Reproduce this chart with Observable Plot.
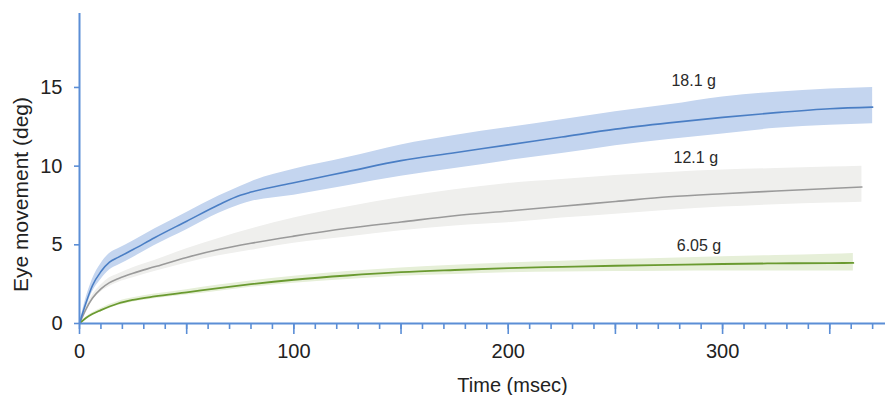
<!DOCTYPE html>
<html>
<head>
<meta charset="utf-8">
<script src="https://cdn.jsdelivr.net/npm/d3@7"></script>
<script src="https://cdn.jsdelivr.net/npm/@observablehq/plot@0.6"></script>
<style>
  html, body { margin: 0; padding: 0; background: #ffffff; }
  #chart { width: 889px; height: 395px; }
</style>
</head>
<body>
<div id="chart"></div>
<script>
// ---- Data ----
const seriesNames = ["18.1 g", "12.1 g", "6.05 g"];

const tBlue  = [0, 3, 6, 10, 14, 18, 25, 35, 50, 65, 75, 80, 100, 125, 150, 175, 200, 225, 250, 275, 300, 325, 350, 370];
const mBlue  = [0, 1.3, 2.4, 3.3, 3.9, 4.2, 4.7, 5.45, 6.5, 7.55, 8.15, 8.35, 8.95, 9.65, 10.35, 10.85, 11.35, 11.85, 12.35, 12.75, 13.1, 13.4, 13.65, 13.75];
const loBlue = [0, 1.0, 2.0, 2.8, 3.4, 3.7, 4.2, 4.95, 5.95, 7.0, 7.55, 7.75, 8.15, 8.75, 9.35, 9.85, 10.35, 10.8, 11.3, 11.7, 12.05, 12.4, 12.6, 12.7];
const hiBlue = [0, 1.6, 2.8, 3.8, 4.45, 4.75, 5.25, 6.0, 7.05, 8.1, 8.7, 9.0, 9.8, 10.55, 11.35, 11.95, 12.45, 12.95, 13.45, 13.9, 14.4, 14.7, 14.9, 15.0];

const tGray  = [0, 3, 6, 10, 14, 18, 25, 35, 50, 65, 80, 100, 125, 150, 175, 200, 225, 250, 275, 300, 325, 350, 365];
const mGray  = [0, 0.9, 1.6, 2.2, 2.6, 2.85, 3.2, 3.6, 4.2, 4.7, 5.1, 5.55, 6.05, 6.45, 6.85, 7.15, 7.45, 7.75, 8.05, 8.25, 8.42, 8.58, 8.67];
const loGray = [0, 0.8, 1.45, 2.0, 2.35, 2.6, 2.9, 3.3, 3.85, 4.3, 4.65, 5.1, 5.5, 5.9, 6.2, 6.4, 6.7, 6.95, 7.2, 7.4, 7.55, 7.65, 7.7];
const hiGray = [0, 1.05, 1.8, 2.45, 2.9, 3.15, 3.55, 4.0, 4.75, 5.4, 6.0, 6.7, 7.4, 8.0, 8.5, 8.9, 9.15, 9.4, 9.6, 9.75, 9.85, 9.95, 10.0];

const tGreen  = [0, 3, 6, 10, 14, 18, 25, 35, 50, 65, 80, 100, 125, 150, 175, 200, 225, 250, 275, 300, 325, 350, 361];
const mGreen  = [0, 0.35, 0.6, 0.85, 1.08, 1.27, 1.5, 1.72, 1.98, 2.25, 2.5, 2.78, 3.05, 3.26, 3.4, 3.52, 3.6, 3.67, 3.73, 3.78, 3.82, 3.84, 3.85];
const loGreen = [0, 0.3, 0.52, 0.75, 0.96, 1.14, 1.37, 1.57, 1.81, 2.05, 2.3, 2.56, 2.8, 3.0, 3.12, 3.22, 3.27, 3.3, 3.32, 3.34, 3.34, 3.33, 3.33];
const hiGreen = [0, 0.4, 0.68, 0.95, 1.2, 1.4, 1.63, 1.87, 2.15, 2.45, 2.7, 3.0, 3.3, 3.53, 3.7, 3.85, 3.96, 4.06, 4.15, 4.24, 4.32, 4.4, 4.45];

// label anchor positions (data units)
const labelX = [286.5, 287.5, 289];
const labelY = [15.4, 10.55, 4.95];

// ticks
const xMinorTicks = [0,10,20,30,40,50,60,70,80,90,100,110,120,130,140,150,160,170,180,190,200,210,220,230,240,250,260,270,280,290,300,310,320,330,340,350,360,370];
const xMajorTicks = [0, 50, 100, 150, 200, 250, 300, 350];
const xTickLabels = [0, 100, 200, 300];
const yTicks = [0, 5, 10, 15];
const xTitle = "Time (msec)";
const yTitle = "Eye movement (deg)";
// axis title anchors (data units)
const xTitlePos = {x: 202, y: 0};
const yTitlePos = {x: 0, y: 8.2};

// ---- Build tables ----
function table(t, m, lo, hi, name) {
  return t.map((x, i) => ({t: x, m: m[i], lo: lo[i], hi: hi[i], name}));
}
const blue = table(tBlue, mBlue, loBlue, hiBlue, seriesNames[0]);
const gray = table(tGray, mGray, loGray, hiGray, seriesNames[1]);
const green = table(tGreen, mGreen, loGreen, hiGreen, seriesNames[2]);
const labels = seriesNames.map((s, i) => ({s, x: labelX[i], y: labelY[i]}));

const axisColor = "#5b8ed6";
const curve = "monotone-x";

const chart = Plot.plot({
  width: 889,
  height: 395,
  marginLeft: 79,
  marginRight: 4,
  marginTop: 13,
  marginBottom: 72,
  x: {domain: [0, 376], label: null},
  y: {domain: [0, 19.7], label: null},
  style: {fontFamily: "'Liberation Sans', Arial, sans-serif", background: "#ffffff", color: "#222"},
  marks: [
    Plot.areaY(gray, {x: "t", y1: "lo", y2: "hi", fill: "#efefed", curve}),
    Plot.areaY(green, {x: "t", y1: "lo", y2: "hi", fill: "#e6efd8", curve}),
    Plot.areaY(blue, {x: "t", y1: "lo", y2: "hi", fill: "#c4d5ef", curve}),
    Plot.line(gray, {x: "t", y: "m", stroke: "#9a9a9a", strokeWidth: 1.6, curve}),
    Plot.line(green, {x: "t", y: "m", stroke: "#6a9a30", strokeWidth: 1.8, curve}),
    Plot.line(blue, {x: "t", y: "m", stroke: "#4a7ec4", strokeWidth: 1.6, curve}),
    Plot.text(labels, {x: "x", y: "y", text: "s", fontSize: 16, fill: "#2a2a2a"}),
    Plot.axisX(xMinorTicks, {tickSize: 6, tickFormat: () => "", stroke: axisColor, strokeWidth: 1.6, label: null}),
    Plot.axisX(xMajorTicks, {tickSize: 11, tickFormat: () => "", stroke: axisColor, strokeWidth: 1.6, label: null}),
    Plot.axisX(xTickLabels, {tickSize: 0, tickPadding: 20, fontSize: 20, fill: "#222", label: null}),
    Plot.axisY(yTicks, {tickSize: 5, tickPadding: 12, fontSize: 20, fill: "#222", stroke: axisColor, strokeWidth: 1.6, label: null}),
    Plot.ruleY([0], {stroke: axisColor, strokeWidth: 2}),
    Plot.ruleX([0], {stroke: axisColor, strokeWidth: 2}),
    Plot.text([{s: xTitle, ...xTitlePos}], {x: "x", y: "y", text: "s", dy: 62, fontSize: 20, fill: "#222"}),
    Plot.text([{s: yTitle, ...yTitlePos}], {x: "x", y: "y", text: "s", textAnchor: "middle", rotate: -90, dx: -58, fontSize: 21, fill: "#222"})
  ]
});
document.getElementById("chart").appendChild(chart);
</script>
</body>
</html>
